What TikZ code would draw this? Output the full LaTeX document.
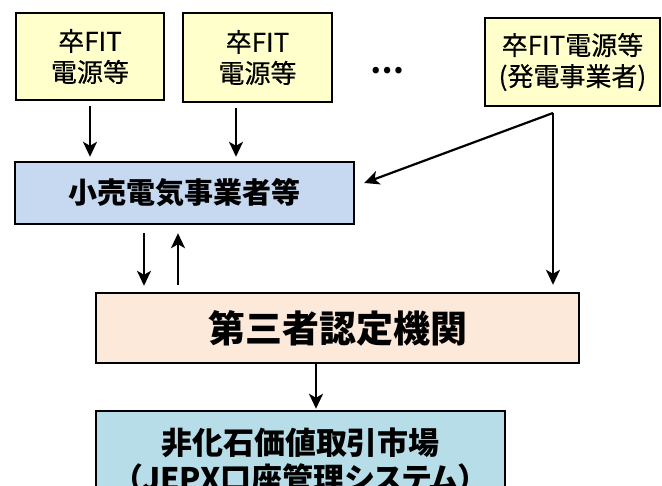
\documentclass[tikz,border=0pt]{standalone}
\usepackage{fontspec}
\setmainfont{Noto Sans CJK JP}
\newfontfamily\srcfont{Noto Sans CJK JP}[FakeBold=0.4]
\newfontfamily\paltfont{Noto Sans CJK JP}[CharacterWidth=AlternateProportional]
\usetikzlibrary{arrows.meta}

\definecolor{srcyellow}{HTML}{FFFFCC}
\definecolor{retailblue}{HTML}{C6D9F1}
\definecolor{certpeach}{HTML}{FDE9D9}
\definecolor{marketaqua}{HTML}{B7DEE8}

\tikzset{srcbox/.style={draw,fill=srcyellow,align=center,inner sep=0pt,line width=2.4pt,
    font=\fontsize{26}{31}\selectfont\srcfont}}
\tikzset{mainbox/.style={draw,inner sep=0pt,line width=2.4pt}}
\tikzset{arr/.style={line width=2.2pt,-{Stealth[length=15pt,width=14pt,inset=4pt]}}}

\begin{document}
\begin{tikzpicture}[x=1pt,y=-1pt]
    \useasboundingbox (0,0) rectangle (662,486);
    \node[srcbox,minimum width=148pt,minimum height=87pt] (src1) at (90,56.5) {卒FIT\\電源等};
    \node[srcbox,minimum width=149pt,minimum height=89pt] (src2) at (257.5,57.5) {卒FIT\\電源等};
    \node[font=\fontsize{30}{30}\selectfont\bfseries] (dots) at (387,71) {…};
    \node[srcbox,minimum width=175pt,minimum height=88pt] (src3) at (572.5,62) {卒FIT電源等\\(発電事業者)};
    \node[mainbox,fill=retailblue,minimum width=339pt,minimum height=62pt,
      font=\fontsize{29}{29}\selectfont\bfseries] (retail) at (184.5,193) {小売電気事業者等};
    \node[mainbox,fill=certpeach,minimum width=483pt,minimum height=70pt,
      font=\fontsize{37}{37}\selectfont\bfseries] (cert) at (337.5,328) {第三者認定機関};
    \node[mainbox,fill=marketaqua,minimum width=409pt,minimum height=100pt,align=center,
      font=\fontsize{31}{36}\selectfont\bfseries] (market) at (300.5,461) {非化石価値取引市場\\{\paltfont\bfseries（JEPX口座管理システム）}};
    \coordinate (split) at (553,113);
    \coordinate (src2 out) at ([xshift=-21.5pt]src2.south);
    \coordinate (retail out) at ([xshift=-40.5pt]retail.south);
    \coordinate (retail in) at ([xshift=-6.5pt]retail.south);
    \coordinate (cert out) at ([xshift=-21.5pt]cert.south);
    \draw[arr, shorten <=5pt, shorten >=4pt] (src1.south) -- (src1.south |- retail.north);
    \draw[arr, shorten <=5pt, shorten >=4pt] (src2 out) -- (src2 out |- retail.north);
    \draw[arr] (split) -- ([shift={(9,-10)}]retail.east);
    \draw[arr, shorten >=7pt] (split) -- (split |- cert.north);
    \draw[arr, shorten <=8pt, shorten >=6pt] (retail out) -- (retail out |- cert.north);
    \draw[arr, shorten <=7pt, shorten >=8pt] (retail in |- cert.north) -- (retail in);
    \draw[arr, shorten >=1pt] (cert out) -- (cert out |- market.north);
  \end{tikzpicture}
\end{document}
